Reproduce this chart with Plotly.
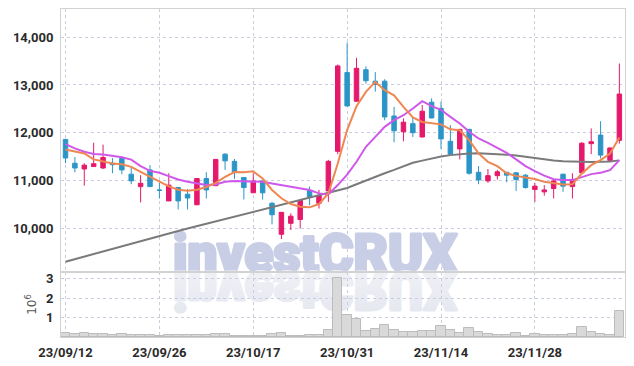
import base64
import plotly.graph_objects as go

dates = ["2023-09-12","2023-09-13","2023-09-14","2023-09-15","2023-09-18","2023-09-19","2023-09-20","2023-09-21","2023-09-22","2023-09-25",
         "2023-09-26","2023-09-27","2023-10-04","2023-10-05","2023-10-06","2023-10-10","2023-10-11","2023-10-12","2023-10-13","2023-10-16",
         "2023-10-17","2023-10-18","2023-10-19","2023-10-20","2023-10-23","2023-10-24","2023-10-25","2023-10-26","2023-10-27","2023-10-30",
         "2023-10-31","2023-11-01","2023-11-02","2023-11-03","2023-11-06","2023-11-07","2023-11-08","2023-11-09","2023-11-10","2023-11-13",
         "2023-11-14","2023-11-15","2023-11-16","2023-11-17","2023-11-20","2023-11-21","2023-11-22","2023-11-23","2023-11-24","2023-11-27",
         "2023-11-28","2023-11-29","2023-11-30","2023-12-01","2023-12-04","2023-12-05","2023-12-06","2023-12-07","2023-12-08","2023-12-11"]

opens = [11860,11360,11240,11290,11260,11360,11460,11130,10870,11220,
         10800,10570,10850,10710,10490,11040,10890,11550,11400,11060,
         10740,10990,10520,9870,10100,10180,10790,10520,10780,11610,
         13260,12660,13320,13080,13080,12350,12020,12190,11910,12640,
         12510,11820,11660,12070,11170,10990,11100,11170,11160,11110,
         10810,10760,10830,11130,10870,11160,11770,11950,11420,11840]
highs = [11870,11490,11360,11790,11750,11470,11500,11290,11110,11320,
         10950,11150,10860,10820,11050,11170,11450,11570,11450,11070,
         11150,10990,10550,10340,10310,10590,10870,10800,11430,13430,
         13890,13570,13390,13270,13120,12540,12300,12320,12580,12720,
         12650,12160,12080,12080,11300,11240,11220,11180,11170,11130,
         10950,10900,11020,11140,11150,11800,12090,12240,11690,13450]
lows = [11360,11170,10890,11280,11240,11150,11130,10920,10540,10860,
        10620,10570,10390,10390,10480,10620,10880,11220,11030,10600,
        10740,10600,10080,9770,9960,9990,10480,10410,10550,11550,
        12560,12650,13030,12860,12260,11800,11820,11910,11900,12300,
        11660,11540,11440,11120,10920,10950,11020,10960,10780,10830,
        10550,10680,10620,10760,10620,11150,11550,11460,11410,11770]
closes = [11470,11260,11320,11350,11480,11330,11220,10990,10940,10870,
          10790,10900,10570,10630,11040,10800,11440,11410,11180,10850,
          10990,10740,10280,10330,10250,10580,10660,10680,11400,13400,
          12560,13350,13090,13010,12330,12040,12220,12000,12450,12310,
          11870,11550,12070,11150,11010,11100,11180,11110,11020,10850,
          10880,10800,10990,10880,11020,11780,11810,11530,11680,12810]

ma5 = [11650,11600,11565,11440,11405,11355,11340,11285,11180,11075,
       10965,10875,10805,10785,10805,10860,10950,11075,11175,11170,
       11190,11040,10800,10625,10505,10450,10435,10505,10725,11355,
       12055,12555,12855,13065,12890,12785,12540,12320,12225,12205,
       12175,12070,12050,11845,11565,11390,11300,11150,11095,11060,
       11030,10970,10935,10915,10920,11145,11320,11425,11565,11900]
ma20 = [11760,11670,11600,11555,11545,11520,11485,11435,11300,11200,
        11160,11090,11020,10970,10930,10902,10915,10970,10985,10985,
        10985,10970,10937,10902,10853,10832,10797,10728,10707,10902,
        11120,11390,11704,11913,12122,12263,12367,12508,12660,12556,
        12480,12332,12194,12018,11879,11787,11683,11578,11440,11300,
        11195,11100,11024,11006,11006,11075,11132,11159,11216,11425]
ma60 = [9296,9350,9405,9460,9515,9570,9625,9680,9735,9790,
        9840,9890,9940,9990,10040,10090,10140,10185,10235,10280,
        10330,10380,10430,10480,10530,10580,10630,10680,10730,10785,
        10840,10920,11000,11080,11150,11220,11290,11370,11415,11460,
        11500,11530,11555,11565,11570,11565,11555,11540,11520,11490,
        11460,11435,11415,11400,11390,11385,11385,11390,11395,11420]

volumes = [200000,170000,200000,150000,150000,120000,150000,80000,120000,80000,
           70000,80000,100000,80000,80000,120000,150000,150000,70000,70000,
           70000,70000,150000,200000,70000,70000,100000,100000,340000,3030000,
           1140000,920000,290000,410000,610000,340000,270000,240000,290000,290000,
           580000,360000,200000,480000,250000,150000,100000,100000,200000,70000,
           150000,100000,100000,100000,150000,510000,250000,150000,100000,1330000]

tick_idx = [0, 10, 20, 30, 40, 50]
tick_text = ["23/09/12", "23/09/26", "23/10/17", "23/10/31", "23/11/14", "23/11/28"]
price_ticks = [10000, 11000, 12000, 13000, 14000]
vol_ticks = [1, 2, 3]

PINK = "#e5196b"
BLUE = "#2c95c7"
GRID = "#c9cde0"
LINE = "#d2d2d2"
TICKFONT = dict(family="Roboto, sans-serif", size=13, color="#2a2a2a", weight="bold")

fig = go.Figure()
fig.add_trace(go.Candlestick(
    x=dates, open=opens, high=highs, low=lows, close=closes,
    xaxis="x2", yaxis="y2", whiskerwidth=0,
    increasing=dict(line=dict(color=PINK, width=1), fillcolor=PINK),
    decreasing=dict(line=dict(color=BLUE, width=1), fillcolor=BLUE),
    showlegend=False, hoverinfo="skip"))
fig.add_trace(go.Scatter(x=dates, y=ma60, xaxis="x2", yaxis="y2", mode="lines",
                         line=dict(color="#7a7a7a", width=2), showlegend=False))
fig.add_trace(go.Scatter(x=dates, y=ma20, xaxis="x2", yaxis="y2", mode="lines",
                         line=dict(color="#cf58ea", width=2), showlegend=False))
fig.add_trace(go.Scatter(x=dates, y=ma5, xaxis="x2", yaxis="y2", mode="lines",
                         line=dict(color="#ee8752", width=2), showlegend=False))
fig.add_trace(go.Bar(x=dates, y=[v / 1e6 for v in volumes], xaxis="x", yaxis="y",
                     marker=dict(color="#d9d9d9", line=dict(color="#bcbcbc", width=1)),
                     showlegend=False))

svg = ('<svg xmlns="http://www.w3.org/2000/svg" width="320" height="100" viewBox="0 0 320 100">'
       '<defs><linearGradient id="g" x1="0" y1="0" x2="0" y2="1">'
       '<stop offset="0" stop-color="#e4e6ef"/><stop offset="1" stop-color="#f2f3f7"/></linearGradient></defs>'
       '<text x="160" y="47" text-anchor="middle" font-family="Roboto, sans-serif" font-weight="900" '
       'font-size="53" fill="#c8cee5" stroke="#c8cee5" stroke-width="3" stroke-linejoin="round">investCRUX</text>'
       '<g transform="translate(0,94) scale(1,-1)">'
       '<text x="160" y="47" text-anchor="middle" font-family="Roboto, sans-serif" font-weight="900" '
       'font-size="53" fill="url(#g)" stroke="url(#g)" stroke-width="3" stroke-linejoin="round">investCRUX</text></g></svg>')
src = "data:image/svg+xml;base64," + base64.b64encode(svg.encode()).decode()

L, R, T, B = 61, 9, 9, 29
W, H = 634, 366
pw, ph = W - L - R, H - T - B

fig.add_layout_image(dict(source=src, xref="paper", yref="paper",
                          x=(155 - L) / pw, y=(H - B - 225) / ph,
                          sizex=320 / pw, sizey=100 / ph,
                          xanchor="left", yanchor="top", sizing="stretch", layer="below"))

split = 65 / 328
xcommon = dict(type="category", range=[-0.48, 59.6], showgrid=True, griddash="dot",
               gridcolor=GRID, gridwidth=1, showline=True, mirror=True, linecolor=LINE,
               tickvals=[dates[i] for i in tick_idx], zeroline=False, automargin=False)

fig.update_layout(
    width=W, height=H, margin=dict(l=L, r=R, t=T, b=B, autoexpand=False),
    paper_bgcolor="white", plot_bgcolor="rgba(0,0,0,0)",
    bargap=0, boxgap=0.32, showlegend=False,
    xaxis=dict(**xcommon, anchor="y", ticktext=tick_text, tickfont=TICKFONT,
               ticks="outside", ticklen=3, tickcolor="rgba(0,0,0,0)"),
    xaxis2=dict(**xcommon, anchor="y2", matches="x", showticklabels=False),
    yaxis=dict(domain=[0, split], range=[0, 3.35], tickvals=vol_ticks, tickfont=TICKFONT,
               showgrid=True, griddash="dot", gridcolor=GRID, showline=True, mirror=True,
               linecolor=LINE, zeroline=False, ticks="outside", ticklen=4, tickcolor="rgba(0,0,0,0)",
               automargin=False,
               title=dict(text="10<sup>6</sup>", font=dict(family="DejaVu Sans, sans-serif", size=12, color="#555555"),
                          standoff=6)),
    yaxis2=dict(domain=[split, 1], range=[9080, 14593], tickvals=price_ticks, tickformat=",d",
                tickfont=TICKFONT, showgrid=True, griddash="dot", gridcolor=GRID, showline=True,
                mirror=True, linecolor=LINE, zeroline=False, ticks="outside", ticklen=4,
                tickcolor="rgba(0,0,0,0)", automargin=False),
)
fig.update_xaxes(rangeslider_visible=False)

fig.write_html("out.html", config={"displayModeBar": False},
               post_script="document.body.style.margin='0';document.body.style.padding='0';"
                           "document.documentElement.style.overflow='hidden';")
